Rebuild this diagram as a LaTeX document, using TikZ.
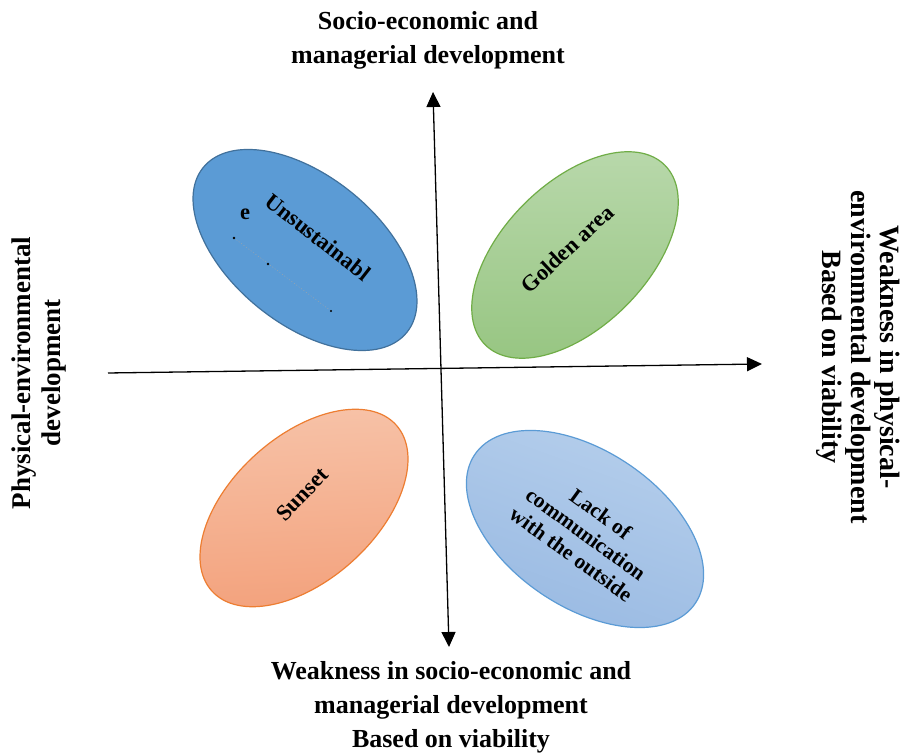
\documentclass[tikz,border=0pt]{standalone}
\usepackage{fontspec}
\setmainfont{Liberation Serif}
\usetikzlibrary{shapes.geometric,arrows.meta}
\definecolor{bluefill}{HTML}{5B9BD5}
\definecolor{blueline}{HTML}{41719C}
\definecolor{greenA}{HTML}{BAD9AD}
\definecolor{greenB}{HTML}{98C683}
\definecolor{greenline}{HTML}{70AD47}
\definecolor{orangeA}{HTML}{F7C4AA}
\definecolor{orangeB}{HTML}{F3A27D}
\definecolor{orangeline}{HTML}{ED7D31}
\definecolor{lblueA}{HTML}{B6CFEC}
\definecolor{lblueB}{HTML}{98B9E2}
\definecolor{lblueline}{HTML}{5B9BD5}
\tikzset{
  blob/.style={ellipse, inner sep=0pt, line width=1.2pt},
  axisline/.style={line width=1.3pt, black},
  bigtxt/.style={inner sep=0pt, align=center, font=\fontsize{26}{34}\selectfont\bfseries},
  sidetxt/.style={inner sep=0pt, align=center, font=\fontsize{27}{30}\selectfont\bfseries},
  righttxt/.style={inner sep=0pt, align=center, font=\fontsize{28}{29}\selectfont\bfseries},
  intxt/.style={inner sep=0pt, align=center, font=\fontsize{22.5}{25}\selectfont\bfseries},
  lacktxt/.style={inner sep=0pt, align=center, font=\fontsize{21.5}{25}\selectfont\bfseries},
}
\begin{document}
\begin{tikzpicture}[x=1pt,y=1pt]
\useasboundingbox (0,0) rectangle (903,754);
\fill[white] (0,0) rectangle (903,754);

% ellipses
\node[blob, draw=blueline, fill=bluefill, minimum width=262, minimum height=148, rotate=-39] (unsus) at (305,504) {};
\node[blob, draw=greenline, top color=greenA, bottom color=greenB, shading angle=0, minimum width=254, minimum height=144, rotate=45] (golden) at (575,499) {};
\node[blob, draw=orangeline, top color=orangeA, bottom color=orangeB, shading angle=3, minimum width=248, minimum height=144, rotate=42] (sunset) at (304,246) {};
\node[blob, draw=lblueline, top color=lblueA, bottom color=lblueB, shading angle=-20, minimum width=266, minimum height=156, rotate=-34] (lack) at (585,225) {};

% ellipse texts
\node[intxt, rotate=-38] (tunsus) at (318,517) {Unsustainabl};
\node[intxt] (te) at (245,540) {e};
\coordinate (d1) at (234,516);
\coordinate (d2) at (268,490);
\coordinate (d3) at (331,443);
\draw[gray!70, line width=0.4pt, dash pattern=on 1pt off 2pt] (d1) -- (d3);
\fill[black] (d1) circle (1.3pt) (d2) circle (1.3pt) (d3) circle (1.1pt);
\node[intxt, rotate=43] (tgolden) at (567,505) {Golden area};
\node[intxt, rotate=46] (tsunset) at (302,260) {Sunset};
\node[lacktxt, rotate=-36] (tlack) at (586,220) {Lack of\\communication\\with the outside};

% axes
\coordinate (vtop) at (433,662);
\coordinate (vbot) at (449,107);
\coordinate (hl) at (108,381);
\coordinate (hr) at (762,390);
\draw[axisline, {Triangle[length=15pt,width=14pt]}-{Triangle[length=15pt,width=14pt]}] (vbot) -- (vtop);
\draw[axisline, -{Triangle[length=15pt,width=14pt]}] (hl) -- (hr);

% axis labels
\node[bigtxt] (ltop) at (428,714) {Socio-economic and\\managerial development};
\node[bigtxt] (lbot) at (451,47) {Weakness in socio-economic and\\managerial development\\Based on viability};
\node[sidetxt, rotate=90] (lleft) at (39,381) {Physical-environmental\\development};
\node[righttxt, rotate=-90] (lright) at (858,397) {Weakness in physical-\\environmental development\\Based on viability};
\end{tikzpicture}
\end{document}
